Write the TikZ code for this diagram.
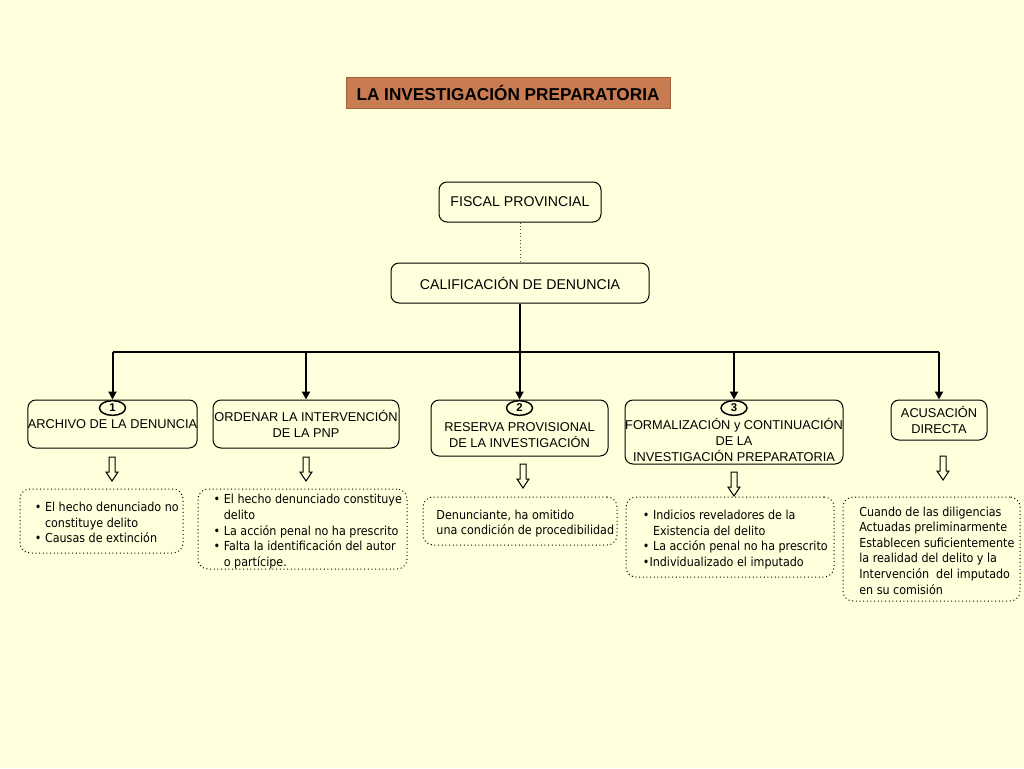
\documentclass[tikz,border=0pt]{standalone}
\usepackage{fontspec}
\setmainfont{Liberation Sans}
\newfontfamily\notefont{DejaVu Sans Condensed}
\usetikzlibrary{arrows.meta,shapes.geometric}
\definecolor{paper}{HTML}{FFFFDC}
\definecolor{titlebrown}{HTML}{C97C52}
\newcommand\notelines[1]{\hspace*{8pt}\raisebox{-2.2pt}[\height][\depth]{\begin{tabular}{@{}l@{}}#1\end{tabular}}}
\tikzset{
  box/.style={draw, line width=0.75pt, rounded corners=6pt, align=center, inner sep=0pt,
    font=\fontsize{9.6}{12}\selectfont},
  boxtext/.style={align=center, inner sep=0pt, font=\fontsize{9.6}{12}\selectfont},
  num/.style={draw, ellipse, line width=1.1pt, fill=paper, inner sep=0pt,
    minimum width=19.5pt, minimum height=11pt, font=\fontsize{8.5}{9}\selectfont\bfseries},
  note/.style={draw, dotted, line width=0.75pt, rounded corners=7.5pt, inner sep=0pt,
    font=\notefont\fontsize{9.3}{11.7}\selectfont},
  branch/.style={line width=1.5pt, -{Triangle[length=6pt,width=6pt]}},
  pics/hollow/.style={code={
    \draw[line width=0.75pt, fill=paper] (-3,0) -- (-3,15) -- (-6,15) -- (0,24) -- (6,15) -- (3,15) -- (3,0) -- cycle;
  }}
}
\begin{document}
\begin{tikzpicture}[x=0.75pt, y=-0.75pt]
  \fill[paper] (0,0) rectangle (1024,768);
  \useasboundingbox (0,0) rectangle (1024,768);

  \node[fill=titlebrown, draw=titlebrown!80!black, line width=0.4pt, minimum width=243pt, minimum height=23.25pt,
    font=\fontsize{12.9}{14}\selectfont\bfseries] (title) at (508,92.5) {LA INVESTIGACIÓN PREPARATORIA};

  \node[box, minimum width=121.5pt, minimum height=30pt, font=\fontsize{10.6}{12}\selectfont] (fiscal) at (520,202) {FISCAL PROVINCIAL};
  \node[box, minimum width=193.5pt, minimum height=30pt, font=\fontsize{10.6}{12}\selectfont] (calif) at (520,283) {CALIFICACIÓN DE DENUNCIA};
  \draw[dotted, line width=0.6pt, black!70] (fiscal) -- (calif);

  % second level
  \node[box, minimum width=126.75pt, minimum height=36pt] (archivo) at (112.5,424) {ARCHIVO DE LA DENUNCIA};
  \node[box, minimum width=139.5pt, minimum height=36pt] (ordenar) at (306,424) {ORDENAR LA INTERVENCIÓN\\DE LA PNP};
  \node[box, minimum width=132.75pt, minimum height=42pt] (reserva) at (519.5,428) {};
  \node[boxtext] (reservatxt) at (519.5,435.5) {RESERVA PROVISIONAL\\DE LA INVESTIGACIÓN};
  \node[box, minimum width=163.5pt, minimum height=48pt] (formal) at (734,432) {};
  \node[boxtext] (formaltxt) at (734,440) {FORMALIZACIÓN y CONTINUACIÓN\\DE LA\\INVESTIGACIÓN PREPARATORIA};
  \node[box, minimum width=72pt, minimum height=30pt] (acusacion) at (939,420) {ACUSACIÓN\\DIRECTA};

  \node[num] (n1) at (112.5,408) {1};
  \node[num] (n2) at (519.5,408) {2};
  \node[num] (n3) at (734,408) {3};

  % tree
  \coordinate (bar) at (520,352);
  \draw[line width=1.5pt] (calif) -- (bar);
  \draw[line width=1.5pt] (archivo |- bar) -- (acusacion |- bar);
  \foreach \n in {archivo, ordenar, reserva, formal, acusacion}
    \draw[branch] (\n |- bar) -- (\n.north);

  % notes
  \node[note, minimum width=122.25pt, minimum height=48pt] (notea) at (101.5,521)
    {\notelines{• El hecho denunciado no\\\phantom{• }constituye delito\\• Causas de extinción}};
  \node[note, minimum width=156.75pt, minimum height=60pt] (noteb) at (302.5,529)
    {\notelines{• El hecho denunciado constituye\\\phantom{• }delito\\• La acción penal no ha prescrito\\• Falta la identificación del autor\\\phantom{• }o partícipe.}};
  \node[note, minimum width=145.5pt, minimum height=36pt] (notec) at (520,521)
    {\notelines{Denunciante, ha omitido\\una condición de procedibilidad}};
  \node[note, minimum width=156pt, minimum height=60pt] (noted) at (730,537)
    {\notelines{• Indicios reveladores de la\\\phantom{• }Existencia del delito\\• La acción penal no ha prescrito\\•Individualizado el imputado}};
  \node[note, minimum width=132.75pt, minimum height=78pt] (notee) at (931.5,549)
    {\notelines{Cuando de las diligencias\\Actuadas preliminarmente\\Establecen suficientemente\\la realidad del delito y la\\Intervención\ \ del imputado\\en su comisión}};

  % hollow arrows
  \pic at (112,457) {hollow};
  \pic at (306,457) {hollow};
  \pic at (523,464) {hollow};
  \pic at (734,472) {hollow};
  \pic at (943,456) {hollow};
\end{tikzpicture}
\end{document}
